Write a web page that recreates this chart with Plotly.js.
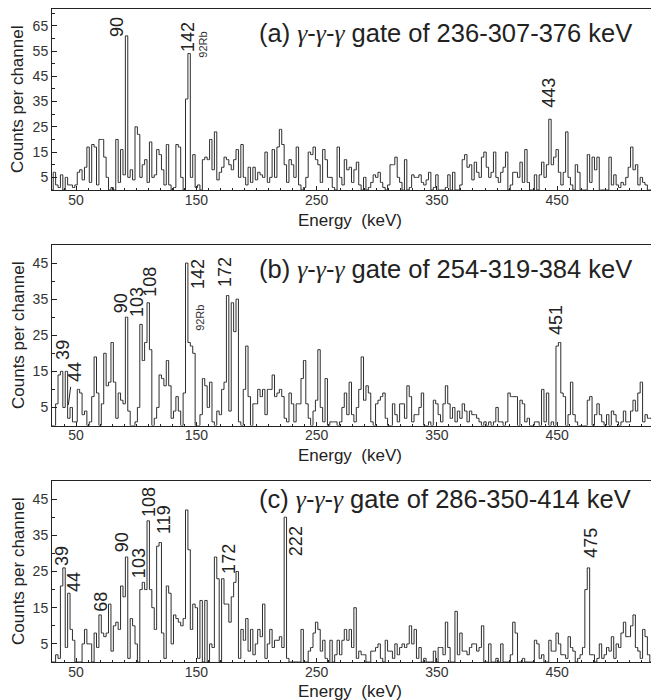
<!DOCTYPE html>
<html><head><meta charset="utf-8">
<script src="https://cdn.plot.ly/plotly-3.0.1.min.js"></script>
<style>body{margin:0;background:#fff}</style>
</head><body><div id="chart" style="width:651px;height:700px"></div>
<script>
// 2 keV channels, centres 30,32,...,528
const binStart = 30, binWidth = 2;
const countsA = [
0,7,2,1,6,0,5,2,2,1,
2,7,8,4,9,17,3,18,17,2,
20,20,13,5,0,1,0,20,3,16,
6,61,5,8,4,25,22,5,10,12,
3,19,5,6,16,14,8,2,18,2,
0,1,18,17,5,0,36,54,5,14,
1,2,0,12,13,12,20,8,23,4,
7,9,13,12,10,8,12,16,5,18,
5,2,9,3,9,4,7,6,5,15,
3,5,16,5,17,24,18,10,3,12,
10,5,17,2,0,1,5,15,14,17,
12,10,3,16,12,5,5,1,0,17,
5,2,12,8,9,3,8,11,2,0,
5,0,1,3,6,5,7,3,1,0,
2,10,10,13,5,3,0,12,0,1,
6,5,5,6,3,2,4,7,0,1,
6,0,0,0,1,6,0,7,0,0,
2,12,14,9,10,4,11,7,5,13,
15,9,5,7,15,5,3,7,9,15,
0,2,7,7,5,11,3,16,3,0,
0,6,0,6,11,5,10,28,10,13,
16,7,2,7,23,5,2,0,10,7,
0,0,0,14,3,13,8,13,0,0,
0,0,13,2,6,2,1,3,2,5,
9,17,8,10,2,5,3,2,0,0];
const countsB = [
0,0,6,14,15,5,15,2,5,1,
1,10,9,3,4,0,1,8,19,9,
0,6,20,11,12,23,12,2,9,7,
6,30,4,0,0,1,5,28,18,23,
34,21,0,2,5,14,13,11,18,11,
2,4,8,4,0,9,45,23,22,20,
0,0,3,13,11,5,12,1,0,4,
3,10,12,36,4,34,26,35,1,0,
10,22,8,0,6,6,10,8,10,3,
10,10,14,8,9,10,8,2,1,9,
6,1,6,6,13,18,6,2,0,4,
7,21,5,1,13,0,1,1,1,0,
1,5,9,3,12,3,1,5,10,19,
7,11,9,1,0,6,7,8,9,2,
0,0,6,3,1,6,6,2,11,8,
1,3,3,5,9,0,0,1,0,7,
6,3,1,6,11,6,2,5,1,4,
2,6,4,1,4,3,3,2,1,0,
1,0,1,0,1,5,1,1,0,1,
9,8,8,8,0,7,6,1,2,0,
0,1,1,0,10,1,9,0,1,0,
22,23,9,8,0,3,12,3,1,0,
0,0,0,7,8,0,3,6,3,1,
0,3,0,4,3,1,0,1,4,1,
1,4,7,4,9,12,1,3,2,2];
const countsC = [
0,0,2,1,21,26,4,19,9,6,
0,0,0,5,9,5,5,0,8,4,
13,8,7,8,16,3,10,11,9,21,
18,29,1,12,10,5,0,20,22,20,
39,20,15,9,32,33,8,1,21,19,
5,13,12,11,10,12,42,31,9,16,
15,1,17,0,17,0,5,4,29,23,
0,23,16,16,11,18,22,25,1,9,
6,12,3,9,2,5,9,7,16,1,
5,9,4,6,6,7,4,40,1,0,
0,0,0,0,9,0,0,3,4,8,
11,9,3,6,1,0,6,0,2,6,
2,6,9,6,9,4,15,1,3,2,
2,0,0,3,3,4,5,1,0,6,
3,3,1,5,2,4,5,4,5,10,
5,9,1,4,0,1,0,0,0,3,
0,4,4,2,11,4,0,0,14,2,
8,3,3,2,4,5,5,3,4,10,
0,0,5,0,0,1,0,5,0,0,
0,2,11,8,0,0,1,0,0,0,
0,6,5,1,2,0,0,6,3,3,
8,5,2,2,1,7,4,3,0,1,
2,4,20,26,2,2,0,1,5,1,
2,4,3,7,1,5,4,8,11,7,
7,10,13,4,3,1,9,7,2,0];
const energies = countsA.map((_, i) => binStart + i * binWidth);

const xTickVals = [50,150,250,350,450];
const yTicksA = [5,15,25,35,45,55,65];
const yTicksBC = [5,15,25,35,45];
const gateTexts = ["(a)", "(b)", "(c)"];
const gateRanges = ["236-307-376", "254-319-384", "286-350-414"];
// peak labels: [text, energy, counts]
const peaksA = [["90",84,64.5],["142",143,60.5],["443",443,38.4]];
const peaksB = [["39",39,20.9],["44",49,14.8],["90",87.4,33.9],["103",100.7,34.2],["108",111.5,39.8],["142",151.4,42.0],["172",173.8,42.5],["451",449,29.2]];
const peaksC = [["39",38.3,29.3],["44",48.3,22.1],["68",70.7,16.6],["90",88.2,33.1],["103",102.3,27.3],["108",110.6,44.2],["119",123.1,39.5],["172",177.2,28.5],["222",232.9,33.4],["475",478.1,32.9]];
const rbLabels = [["y",155.5,57.5],["y2",153,29.8]];

const lineCol = '#2e2e2e';
function trace(y, xa, ya) {
  return {x: energies, y: y, xaxis: xa, yaxis: ya, type: 'scatter', mode: 'lines',
    line: {shape: 'hvh', color: lineCol, width: 1}, hoverinfo: 'skip'};
}
const data = [trace(countsA,'x','y'), trace(countsB,'x2','y2'), trace(countsC,'x3','y3')];

const xCommon = {range:[30,528], showline:true, mirror:true, linecolor:'#222', linewidth:1,
  ticks:'inside', ticklen:4, tickcolor:'#222', tickvals:xTickVals, showgrid:false, zeroline:false,
  ticklabelstandoff:-3,
  tickfont:{size:14, color:'#333'}, minor:{tickmode:'linear', tick0:0, dtick:10, ticks:'inside', ticklen:2, tickcolor:'#222'}};
function yAx(dom, rng, tv, anchor) {
  return {domain:dom, range:rng, anchor:anchor, showline:true, linecolor:'#222', linewidth:1,
    ticks:'inside', ticklen:5, tickcolor:'#222', tickvals:tv, showgrid:false, zeroline:false,
    tickfont:{size:14, color:'#333'}, minor:{tickmode:'linear', tick0:0, dtick:5, ticks:'inside', ticklen:3, tickcolor:'#222'}};
}
const gam = '<span style="font-family:Liberation Serif;font-style:italic">γ</span>';
const annotations = [];
const refs = [['x','y'],['x2','y2'],['x3','y3']];
const gateY = [62.1, 43.1, 44.8];
for (let k = 0; k < 3; k++) {
  annotations.push({xref:refs[k][0], yref:refs[k][1], x:200.5, y:gateY[k], xanchor:'left', yanchor:'middle',
    text: gateTexts[k] + ' ' + gam + '-' + gam + '-' + gam + ' gate of ' + gateRanges[k] + ' keV',
    showarrow:false, font:{size:25.5, color:'#222'}});
}
[peaksA, peaksB, peaksC].forEach((pk, k) => {
  pk.forEach(p => annotations.push({xref:refs[k][0], yref:refs[k][1], x:p[1], y:p[2], text:p[0],
    textangle:-90, showarrow:false, xanchor:'center', yanchor:'middle', font:{size:18, color:'#222'}}));
});
rbLabels.forEach(r => {
  const xr = r[0] === 'y' ? 'x' : 'x2';
  annotations.push({xref:xr, yref:r[0], x:r[1], y:r[2], text:'92Rb', textangle:-90, showarrow:false,
    xanchor:'center', yanchor:'middle', font:{size:11, color:'#333'}});
});
const xTitleY = [1-220/700, 1-455/700, 1-691/700];
const yTitleY = [1-100/700, 1-336/700, 1-572/700];
for (let k = 0; k < 3; k++) {
  annotations.push({xref:'paper', yref:'paper', x:(350-52)/599, y:xTitleY[k], xanchor:'center', yanchor:'middle',
    text:'Energy  (keV)', showarrow:false, font:{size:17, color:'#222'}});
  annotations.push({xref:'paper', yref:'paper', x:(18-52)/599, y:yTitleY[k], xanchor:'center', yanchor:'middle',
    text:'Counts per channel', textangle:-90, showarrow:false, font:{size:17, color:'#222'}});
}
const layout = {
  width:651, height:700, margin:{l:52, r:0, t:0, b:0}, showlegend:false,
  paper_bgcolor:'#fff', plot_bgcolor:'#fff',
  font:{family:'Liberation Sans, Arial, sans-serif', color:'#222', size:14},
  xaxis:Object.assign({anchor:'y'}, xCommon),
  xaxis2:Object.assign({anchor:'y2'}, xCommon),
  xaxis3:Object.assign({anchor:'y3'}, xCommon),
  yaxis:yAx([1-190/700, 1-9.3/700], [0,71.5], yTicksA, 'x'),
  yaxis2:yAx([1-425.5/700, 1-245/700], [0,50], yTicksBC, 'x2'),
  yaxis3:yAx([1-662/700, 1-481/700], [0,50], yTicksBC, 'x3'),
  annotations:annotations,
  shapes:[{type:'line', xref:'x2', yref:'y2', x0:45.5, y0:10.7, x1:43.6, y1:5.7, line:{color:'#222', width:1}}]
};
Plotly.newPlot('chart', data, layout, {staticPlot:true, displayModeBar:false});
</script></body></html>
